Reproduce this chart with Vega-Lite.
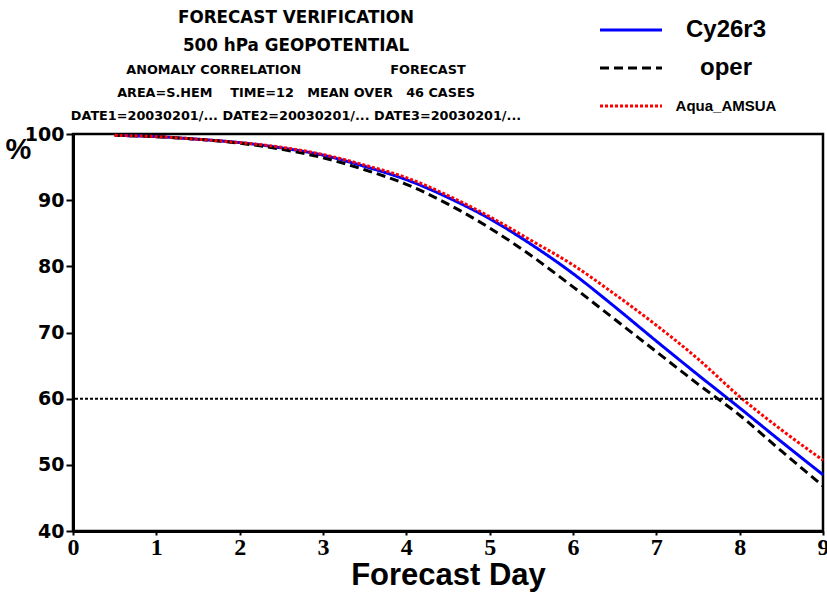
{
  "$schema": "https://vega.github.io/schema/vega-lite/v6.json",
  "width": 750,
  "height": 397,
  "autosize": {"type": "none"},
  "padding": {"left": 73, "top": 134, "right": 4, "bottom": 61},
  "background": "white",
  "config": {
    "font": "Liberation Sans",
    "view": {"stroke": "black", "strokeWidth": 2.5}
  },
  "title": {
    "text": ["FORECAST VERIFICATION", "500 hPa GEOPOTENTIAL"],
    "subtitle": [
      "ANOMALY CORRELATION\u00a0\u00a0\u00a0\u00a0\u00a0\u00a0\u00a0\u00a0\u00a0\u00a0\u00a0\u00a0\u00a0\u00a0\u00a0\u00a0\u00a0\u00a0\u00a0\u00a0FORECAST",
      "AREA=S.HEM\u00a0\u00a0\u00a0\u00a0TIME=12\u00a0\u00a0\u00a0MEAN OVER\u00a0\u00a0\u00a046 CASES",
      "DATE1=20030201/... DATE2=20030201/... DATE3=20030201/..."
    ],
    "anchor": "middle",
    "dx": -152,
    "offset": -105,
    "font": "DejaVu Sans",
    "fontSize": 16.8,
    "fontWeight": "bold",
    "color": "black",
    "lineHeight": 28,
    "subtitleFont": "DejaVu Sans",
    "subtitleFontSize": 12.8,
    "subtitleFontWeight": "bold",
    "subtitleColor": "black",
    "subtitleLineHeight": 23,
    "subtitlePadding": 9
  },
  "layer": [
    {
      "data": {
        "values": [
          {"day": 0.5, "exp": "Cy26r3", "ac": 99.8},
          {"day": 1, "exp": "Cy26r3", "ac": 99.6},
          {"day": 1.5, "exp": "Cy26r3", "ac": 99.2},
          {"day": 2, "exp": "Cy26r3", "ac": 98.7},
          {"day": 2.5, "exp": "Cy26r3", "ac": 97.9},
          {"day": 3, "exp": "Cy26r3", "ac": 96.8},
          {"day": 3.5, "exp": "Cy26r3", "ac": 95.1},
          {"day": 4, "exp": "Cy26r3", "ac": 93.1},
          {"day": 4.5, "exp": "Cy26r3", "ac": 90.4},
          {"day": 5, "exp": "Cy26r3", "ac": 87.2},
          {"day": 5.5, "exp": "Cy26r3", "ac": 83.3},
          {"day": 6, "exp": "Cy26r3", "ac": 78.9},
          {"day": 6.5, "exp": "Cy26r3", "ac": 73.9},
          {"day": 7, "exp": "Cy26r3", "ac": 68.7},
          {"day": 7.5, "exp": "Cy26r3", "ac": 63.6},
          {"day": 8, "exp": "Cy26r3", "ac": 58.6},
          {"day": 8.5, "exp": "Cy26r3", "ac": 53.5},
          {"day": 9, "exp": "Cy26r3", "ac": 48.5},
          {"day": 0.5, "exp": "oper", "ac": 99.8},
          {"day": 1, "exp": "oper", "ac": 99.6},
          {"day": 1.5, "exp": "oper", "ac": 99.2},
          {"day": 2, "exp": "oper", "ac": 98.6},
          {"day": 2.5, "exp": "oper", "ac": 97.7},
          {"day": 3, "exp": "oper", "ac": 96.4},
          {"day": 3.5, "exp": "oper", "ac": 94.6},
          {"day": 4, "exp": "oper", "ac": 92.4},
          {"day": 4.5, "exp": "oper", "ac": 89.4},
          {"day": 5, "exp": "oper", "ac": 85.8},
          {"day": 5.5, "exp": "oper", "ac": 81.6},
          {"day": 6, "exp": "oper", "ac": 76.9},
          {"day": 6.5, "exp": "oper", "ac": 72.0},
          {"day": 7, "exp": "oper", "ac": 67.1},
          {"day": 7.5, "exp": "oper", "ac": 62.2},
          {"day": 8, "exp": "oper", "ac": 57.5},
          {"day": 8.5, "exp": "oper", "ac": 52.1},
          {"day": 9, "exp": "oper", "ac": 46.8},
          {"day": 0.5, "exp": "Aqua_AMSUA", "ac": 99.8},
          {"day": 1, "exp": "Aqua_AMSUA", "ac": 99.6},
          {"day": 1.5, "exp": "Aqua_AMSUA", "ac": 99.2},
          {"day": 2, "exp": "Aqua_AMSUA", "ac": 98.7},
          {"day": 2.5, "exp": "Aqua_AMSUA", "ac": 98.0},
          {"day": 3, "exp": "Aqua_AMSUA", "ac": 96.9},
          {"day": 3.5, "exp": "Aqua_AMSUA", "ac": 95.3},
          {"day": 4, "exp": "Aqua_AMSUA", "ac": 93.4},
          {"day": 4.5, "exp": "Aqua_AMSUA", "ac": 90.7},
          {"day": 5, "exp": "Aqua_AMSUA", "ac": 87.5},
          {"day": 5.5, "exp": "Aqua_AMSUA", "ac": 83.9},
          {"day": 6, "exp": "Aqua_AMSUA", "ac": 80.2},
          {"day": 6.5, "exp": "Aqua_AMSUA", "ac": 75.8},
          {"day": 7, "exp": "Aqua_AMSUA", "ac": 71.1},
          {"day": 7.5, "exp": "Aqua_AMSUA", "ac": 66.0},
          {"day": 8, "exp": "Aqua_AMSUA", "ac": 60.3},
          {"day": 8.5, "exp": "Aqua_AMSUA", "ac": 55.3},
          {"day": 9, "exp": "Aqua_AMSUA", "ac": 50.7}
        ]
      },
      "mark": {"type": "line", "strokeWidth": 3, "interpolate": "monotone"},
      "encoding": {
        "x": {
          "field": "day",
          "type": "quantitative",
          "scale": {"domain": [0, 9], "nice": false},
          "axis": {
            "title": "Forecast Day",
            "values": [0, 1, 2, 3, 4, 5, 6, 7, 8, 9],
            "grid": false,
            "domainColor": "black",
            "domainWidth": 3,
            "tickColor": "black",
            "tickWidth": 2,
            "tickSize": 4,
            "labelFont": "Liberation Sans Narrow",
            "labelFontSize": 24,
            "labelFontWeight": "bold",
            "labelColor": "black",
            "labelPadding": 0,
            "labelFlush": false,
            "titleFont": "Liberation Sans",
            "titleFontSize": 31,
            "titleFontWeight": "bold",
            "titleColor": "black",
            "titlePadding": 1
          }
        },
        "y": {
          "field": "ac",
          "type": "quantitative",
          "scale": {"domain": [40, 100], "nice": false},
          "axis": {
            "title": "%",
            "titleAngle": 0,
            "titleX": -55,
            "titleY": 15,
            "titleAlign": "center",
            "titleBaseline": "middle",
            "titleFont": "Liberation Sans",
            "titleFontSize": 29,
            "titleFontWeight": "bold",
            "titleColor": "black",
            "values": [40, 50, 60, 70, 80, 90, 100],
            "grid": false,
            "domainColor": "black",
            "domainWidth": 3,
            "tickColor": "black",
            "tickWidth": 2,
            "tickSize": 7,
            "labelFont": "DejaVu Sans",
            "labelFontSize": 19,
            "labelFontWeight": "bold",
            "labelColor": "black",
            "labelPadding": 2,
            "labelFlush": false
          }
        },
        "color": {
          "field": "exp",
          "type": "nominal",
          "scale": {"domain": ["Cy26r3", "oper", "Aqua_AMSUA"], "range": ["#0000ff", "#000000", "#ff0000"]},
          "legend": {
            "title": null,
            "orient": "none",
            "legendX": 546,
            "legendY": -116,
            "symbolType": "M-6.2,0H6.2",
            "symbolSize": 100,
            "symbolStrokeWidth": 3,
            "symbolFillColor": "transparent",
            "labelFont": "Liberation Sans",
            "labelFontSize": 24,
            "labelFontWeight": "bold",
            "labelColor": "black",
            "labelAlign": "center",
            "labelOffset": 83,
            "rowPadding": 14,
            "labelLimit": 300,
            "encode": {
              "labels": {
                "update": {
                  "fontSize": {"signal": "datum.value === 'Aqua_AMSUA' ? 15 : 24"}
                }
              }
            }
          }
        },
        "strokeDash": {
          "field": "exp",
          "type": "nominal",
          "scale": {"domain": ["Cy26r3", "oper", "Aqua_AMSUA"], "range": [[1, 0], [9, 5], [3, 2]]},
          "legend": null
        }
      }
    },
    {
      "data": {"values": [{"level": 60}]},
      "mark": {"type": "rule", "color": "black", "strokeWidth": 2, "strokeDash": [3, 2]},
      "encoding": {"y": {"field": "level", "type": "quantitative"}}
    }
  ]
}
